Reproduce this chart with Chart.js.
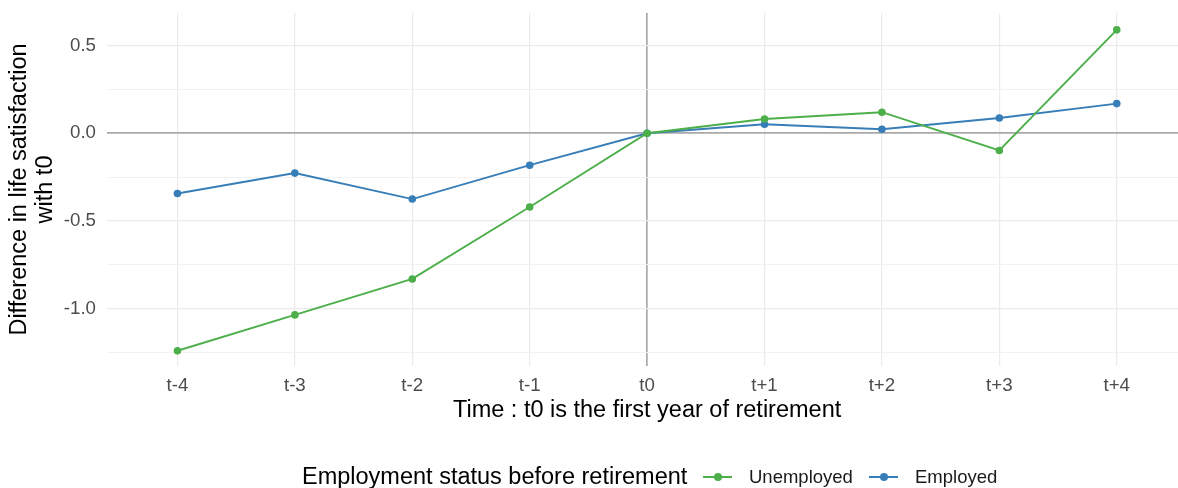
<!DOCTYPE html>
<html>
<head>
<meta charset="utf-8">
<script src="https://cdn.jsdelivr.net/npm/chart.js@4"></script>
<style>
  html, body { margin: 0; padding: 0; background: #fff; overflow: hidden; }
  #wrap { position: relative; width: 1178px; height: 488px; overflow: hidden; }
  #c { position: absolute; left: 0; top: 0; }
  #legend { position: absolute; left: 0; top: 0; width: 1178px; height: 488px; pointer-events: none;
            font-family: "Liberation Sans", Arial, sans-serif; }
  #legend .txt { position: absolute; white-space: nowrap; line-height: 1; }
  #legend .ttl { font-size: 23.5px; color: #000; }
  #legend .lab { font-size: 18.5px; color: #1a1a1a; }
  #legend .ln { position: absolute; height: 2px; width: 29px; }
  #legend .pt { position: absolute; width: 8px; height: 8px; border-radius: 50%; }
</style>
</head>
<body>
<div id="wrap">
  <canvas id="c" width="1191" height="488"></canvas>
  <div id="legend"></div>
</div>
<script>
const categories = ["t-4", "t-3", "t-2", "t-1", "t0", "t+1", "t+2", "t+3", "t+4"];
const unemployed = [-1.239, -1.035, -0.830, -0.420, 0.0, 0.081, 0.120, -0.098, 0.589];
const employed = [-0.343, -0.227, -0.375, -0.182, 0.0, 0.051, 0.023, 0.087, 0.169];
const yTicks = [-1.25, -1.0, -0.75, -0.5, -0.25, 0.0, 0.25, 0.5];
const seriesNames = ["Unemployed", "Employed"];
const legendTitle = "Employment status before retirement";
const xTitle = "Time : t0 is the first year of retirement";
const yTitle = ["Difference in life satisfaction", "with t0"];

const GREEN = "#4DAF4A", BLUE = "#377EB8";
const FONT = "'Liberation Sans', Arial, sans-serif";

function toPts(arr) { return arr.map((v, i) => ({ x: i, y: v })); }
const isMajor = v => Math.abs(Math.round(v * 2) - v * 2) < 1e-9;

new Chart(document.getElementById('c'), {
  type: 'line',
  data: {
    datasets: [
      { label: seriesNames[0], data: toPts(unemployed), borderColor: GREEN, backgroundColor: GREEN,
        borderWidth: 1.9, pointRadius: 3.8, pointBorderWidth: 0, pointHoverRadius: 3.8, tension: 0 },
      { label: seriesNames[1], data: toPts(employed), borderColor: BLUE, backgroundColor: BLUE,
        borderWidth: 1.9, pointRadius: 3.8, pointBorderWidth: 0, pointHoverRadius: 3.8, tension: 0 }
    ]
  },
  options: {
    responsive: false,
    animation: false,
    events: [],
    layout: { padding: { top: 13, right: 0, bottom: 60, left: 0 } },
    plugins: { legend: { display: false }, tooltip: { enabled: false } },
    scales: {
      x: {
        type: 'linear',
        min: -0.6, max: 8.6,
        afterBuildTicks: s => { s.ticks = categories.map((c, i) => ({ value: i })); },
        afterFit: s => { s.height = 62; s.paddingLeft = 0; s.paddingRight = 0; },
        ticks: {
          callback: v => categories[v] ?? '',
          font: { family: FONT, size: 18.7 }, color: '#4d4d4d', padding: 9, maxRotation: 0, autoSkip: false
        },
        grid: {
          drawTicks: false,
          color: ctx => (ctx.tick && ctx.tick.value === 4) ? '#a9a9a9' : '#ebebeb',
          lineWidth: ctx => (ctx.tick && ctx.tick.value === 4) ? 1.7 : 1.2
        },
        border: { display: false },
        title: { display: true, text: xTitle, font: { family: FONT, size: 23.5 }, color: '#000', padding: { top: 0, bottom: 3 } }
      },
      y: {
        type: 'linear',
        min: -1.326, max: 0.685,
        afterBuildTicks: s => { s.ticks = yTicks.map(v => ({ value: v })); },
        afterFit: s => { s.width = 107; s.paddingTop = 0; s.paddingBottom = 0; },
        ticks: {
          callback: v => isMajor(v) ? v.toFixed(1) : '',
          font: { family: FONT, size: 18.7 }, color: '#4d4d4d', padding: 11
        },
        grid: {
          drawTicks: false,
          color: ctx => {
            const v = ctx.tick ? ctx.tick.value : null;
            if (v === 0) return '#a9a9a9';
            return isMajor(v) ? '#ebebeb' : '#f2f2f2';
          },
          lineWidth: ctx => {
            const v = ctx.tick ? ctx.tick.value : null;
            if (v === 0) return 1.7;
            return isMajor(v) ? 1.2 : 1.0;
          }
        },
        border: { display: false },
        title: { display: true, text: yTitle, font: { family: FONT, size: 23.5, lineHeight: 1.106 }, color: '#000', padding: { top: 7, bottom: 0 } }
      }
    }
  }
});

// HTML legend (positioned to match the reference layout)
const lg = document.getElementById('legend');
function addText(cls, text, left, top) {
  const d = document.createElement('div'); d.className = 'txt ' + cls; d.textContent = text;
  d.style.left = left + 'px'; d.style.top = top + 'px'; lg.appendChild(d);
}
function addKey(col, left, cy) {
  const ln = document.createElement('div'); ln.className = 'ln'; ln.style.background = col;
  ln.style.left = left + 'px'; ln.style.top = (cy - 1) + 'px'; lg.appendChild(ln);
  const pt = document.createElement('div'); pt.className = 'pt'; pt.style.background = col;
  pt.style.left = (left + 14.5 - 4) + 'px'; pt.style.top = (cy - 4) + 'px'; lg.appendChild(pt);
}
addText('ttl', legendTitle, 302, 464.5);
addKey(GREEN, 703, 476.7);
addText('lab', seriesNames[0], 749, 467.7);
addKey(BLUE, 869, 476.7);
addText('lab', seriesNames[1], 915, 467.7);
</script>
</body>
</html>
